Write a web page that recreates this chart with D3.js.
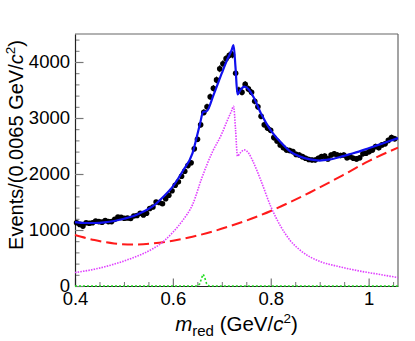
<!DOCTYPE html>
<html lang="en">
<head>
<meta charset="UTF-8">
<title>m_red fit</title>
<script src="https://d3js.org/d3.v7.min.js"></script>
<style>
  body { margin: 0; background: #fff; }
  text { font-family: "Liberation Sans", Arial, sans-serif; }
</style>
</head>
<body>
<svg width="415" height="341"></svg>
<script>
// binned data: 0.0065 GeV/c2 bins starting at 0.4
const binStart = 0.4;
const binWidth = 0.0065;
const counts = [
  1130, 1100, 1070, 1130, 1120, 1130, 1160, 1150, 1140, 1170,
  1150, 1150, 1190, 1230, 1225, 1210, 1215, 1205, 1250, 1260,
  1300, 1270, 1300, 1385, 1410, 1500, 1490, 1470, 1560, 1620,
  1700, 1800, 1860, 1960, 2050, 2150, 2200, 2450, 2620, 2880,
  3100, 3200, 3380, 3530, 3680, 3880, 3970, 4060, 4120, 4130,
  3800, 3500, 3460, 3600, 3520, 3460, 3300, 3200, 3030, 2880,
  2820, 2780, 2650, 2590, 2520, 2470, 2430, 2420, 2400, 2350,
  2340, 2310, 2280, 2260, 2250, 2250, 2280, 2310, 2320, 2270,
  2340, 2360, 2340, 2330, 2340, 2290, 2310, 2280, 2270, 2290,
  2360, 2370, 2400, 2430, 2490, 2470, 2520, 2540, 2600, 2650,
  2630
];

// fit components [mass, events]
const totalFit = [
  [0.40, 1140], [0.42, 1125], [0.44, 1125], [0.46, 1135], [0.48, 1160],
  [0.50, 1200], [0.52, 1250], [0.54, 1330], [0.56, 1430], [0.58, 1590],
  [0.60, 1780], [0.62, 2050], [0.64, 2370], [0.655, 2880], [0.662, 3110],
  [0.669, 3120], [0.683, 3410], [0.70, 3800], [0.71, 4020], [0.72, 4210],
  [0.724, 4300], [0.728, 3900], [0.732, 3420], [0.738, 3500], [0.746, 3560],
  [0.755, 3510], [0.765, 3370], [0.78, 3080], [0.80, 2780], [0.82, 2570],
  [0.84, 2400], [0.86, 2310], [0.88, 2260], [0.90, 2240], [0.92, 2260],
  [0.94, 2300], [0.96, 2350], [0.98, 2400], [1.00, 2460], [1.02, 2520],
  [1.04, 2580], [1.06, 2640]
];
const bkgFit = [
  [0.40, 910], [0.44, 820], [0.48, 760], [0.52, 740], [0.56, 760],
  [0.60, 810], [0.64, 880], [0.68, 970], [0.72, 1080], [0.76, 1200],
  [0.80, 1340], [0.84, 1500], [0.88, 1670], [0.92, 1850], [0.96, 2040],
  [1.00, 2230], [1.06, 2470]
];
const sigFit = [
  [0.40, 240], [0.44, 300], [0.48, 390], [0.52, 510], [0.56, 670],
  [0.58, 790], [0.60, 960], [0.62, 1170], [0.64, 1450], [0.66, 1950],
  [0.68, 2380], [0.70, 2720], [0.71, 2930], [0.72, 3130], [0.724, 3210],
  [0.728, 2800], [0.732, 2320], [0.738, 2380], [0.746, 2430], [0.755, 2370],
  [0.765, 2200], [0.78, 1880], [0.80, 1420], [0.82, 1070], [0.84, 810],
  [0.86, 640], [0.88, 520], [0.90, 440], [0.94, 345], [0.98, 270],
  [1.02, 210], [1.06, 150]
];
const peakFit = [
  [0.40, 0], [0.650, 0], [0.655, 40], [0.659, 150], [0.662, 210],
  [0.665, 150], [0.669, 40], [0.674, 0], [1.06, 0]
];

const xMajor = [0.4, 0.6, 0.8, 1.0];
const yMajor = [0, 1000, 2000, 3000, 4000];

const svg = d3.select("svg");
const frame = { left: 75, right: 398, top: 34, bottom: 286 };

const x = d3.scaleLinear().domain([0.4, 1.06]).range([frame.left, frame.right]);
const y = d3.scaleLinear().domain([0, 4500]).range([frame.bottom, frame.top]);

// frame
svg.append("line").attr("x1", frame.left).attr("x2", frame.right)
  .attr("y1", frame.top).attr("y2", frame.top)
  .attr("stroke", "#999").attr("stroke-width", 1.5);
svg.append("line").attr("x1", frame.right).attr("x2", frame.right)
  .attr("y1", frame.top).attr("y2", frame.bottom)
  .attr("stroke", "#666").attr("stroke-width", 1.2);

// minor ticks
const xMinor = d3.range(0.4, 1.0601, 0.05).filter(v => !xMajor.some(m => Math.abs(m - v) < 1e-6));
const yMinor = d3.range(0, 4401, 200).filter(v => v % 1000 !== 0);

svg.append("g").attr("transform", `translate(0,${frame.bottom})`)
  .call(d3.axisBottom(x).tickValues(xMinor).tickSizeInner(-4).tickSizeOuter(0).tickFormat(""))
  .call(g => g.select(".domain").remove())
  .call(g => g.selectAll("line").attr("stroke", "#777"));
svg.append("g").attr("transform", `translate(${frame.left},0)`)
  .call(d3.axisLeft(y).tickValues(yMinor).tickSizeInner(-4.5).tickSizeOuter(0).tickFormat(""))
  .call(g => g.select(".domain").remove())
  .call(g => g.selectAll("line").attr("stroke", "#777"));

// major axes
svg.append("g").attr("transform", `translate(0,${frame.bottom})`)
  .call(d3.axisBottom(x).tickValues(xMajor).tickSizeInner(-7.5).tickSizeOuter(0)
    .tickPadding(6).tickFormat(d => d))
  .call(g => g.select(".domain").attr("stroke", "#222").attr("stroke-width", 1.2))
  .call(g => g.selectAll("line").attr("stroke", "#777").attr("stroke-width", 1.2))
  .call(g => g.selectAll("text").attr("font-size", 18.5).attr("fill", "#000")
    .attr("font-family", "Liberation Sans, Arial, sans-serif"));

svg.append("g").attr("transform", `translate(${frame.left},0)`)
  .call(d3.axisLeft(y).tickValues(yMajor).tickSizeInner(-8.5).tickSizeOuter(0)
    .tickPadding(5).tickFormat(d => d))
  .call(g => g.select(".domain").attr("stroke", "#222").attr("stroke-width", 1.2))
  .call(g => g.selectAll("line").attr("stroke", "#777").attr("stroke-width", 1.2))
  .call(g => g.selectAll("text").attr("font-size", 18.5).attr("fill", "#000")
    .attr("font-family", "Liberation Sans, Arial, sans-serif"));

// data points with error bars
const pts = counts.map((c, i) => ({ m: binStart + binWidth * (i + 0.5), n: c }));
const dataG = svg.append("g");
dataG.selectAll("line").data(pts).join("line")
  .attr("x1", d => x(d.m)).attr("x2", d => x(d.m))
  .attr("y1", d => y(d.n + Math.sqrt(d.n))).attr("y2", d => y(d.n - Math.sqrt(d.n)))
  .attr("stroke", "#000").attr("stroke-width", 1);
dataG.selectAll("circle").data(pts).join("circle")
  .attr("cx", d => x(d.m)).attr("cy", d => y(d.n)).attr("r", 2.8)
  .attr("fill", "#000");

const line = d3.line().x(d => x(d[0])).y(d => y(d[1])).curve(d3.curveMonotoneX);

svg.append("path").datum(bkgFit).attr("d", line)
  .attr("fill", "none").attr("stroke", "#ff1a1a").attr("stroke-width", 2)
  .attr("stroke-dasharray", "11,5");

svg.append("path").datum(sigFit).attr("d", line)
  .attr("fill", "none").attr("stroke", "#e040ff").attr("stroke-width", 1.6)
  .attr("stroke-dasharray", "1.5,1.2");

svg.append("path").datum(peakFit).attr("d", d3.line().x(d => x(d[0])).y(d => y(d[1])))
  .attr("fill", "none").attr("stroke", "#22dd22").attr("stroke-width", 1.6)
  .attr("stroke-dasharray", "2,2");

svg.append("path").datum(totalFit).attr("d", line)
  .attr("fill", "none").attr("stroke", "#1010ee").attr("stroke-width", 2.2);

// axis titles
const xt = svg.append("text").attr("x", (frame.left + frame.right) / 2).attr("y", 331)
  .attr("text-anchor", "middle").attr("font-size", 20.5);
xt.append("tspan").attr("font-style", "italic").text("m");
xt.append("tspan").attr("font-size", 15).attr("dy", 5).text("red");
xt.append("tspan").attr("dy", -5).text(" (GeV/");
xt.append("tspan").attr("font-style", "italic").text("c");
xt.append("tspan").attr("font-size", 13.5).attr("dy", -8).text("2");
xt.append("tspan").attr("dy", 8).text(")");

const yt = svg.append("text").attr("transform", "translate(23,145) rotate(-90)")
  .attr("text-anchor", "middle").attr("font-size", 20);
yt.append("tspan").text("Events/(0.0065 GeV/");
yt.append("tspan").attr("font-style", "italic").text("c");
yt.append("tspan").attr("font-size", 13.5).attr("dy", -8).text("2");
yt.append("tspan").attr("dy", 8).text(")");
</script>
</body>
</html>
